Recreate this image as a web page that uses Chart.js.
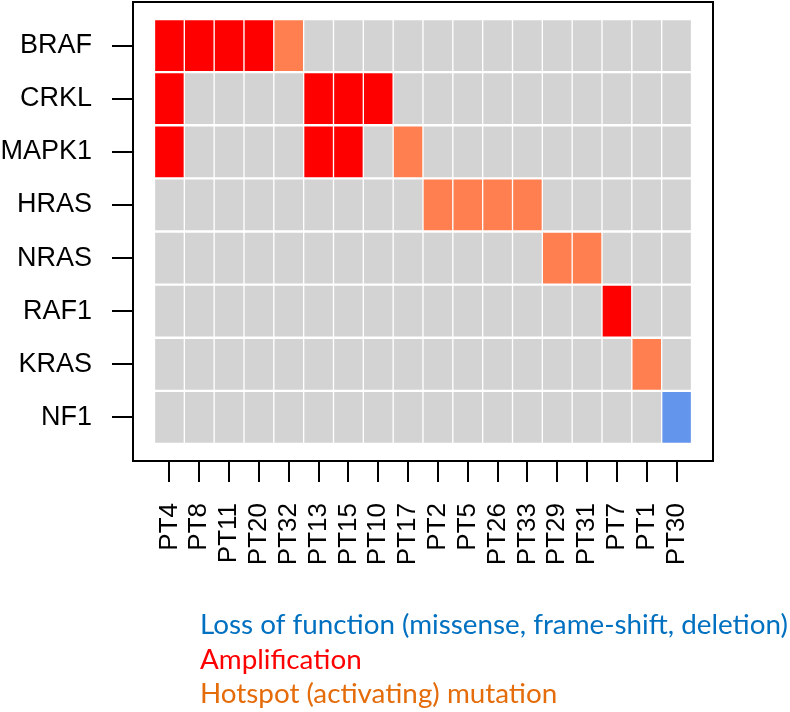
<!DOCTYPE html>
<html>
<head>
<meta charset="utf-8">
<script src="https://cdn.jsdelivr.net/npm/chart.js@4.4.0/dist/chart.umd.min.js"></script>
<style>
  html, body { margin: 0; padding: 0; background: #fff; }
</style>
</head>
<body>
<canvas id="chart" width="790" height="712"></canvas>
<script>
const genes = ["BRAF", "CRKL", "MAPK1", "HRAS", "NRAS", "RAF1", "KRAS", "NF1"];
const patients = ["PT4", "PT8", "PT11", "PT20", "PT32", "PT13", "PT15", "PT10", "PT17",
  "PT2", "PT5", "PT26", "PT33", "PT29", "PT31", "PT7", "PT1", "PT30"];

// 0 = none, 1 = amplification, 2 = hotspot mutation, 3 = loss of function
const BRAF  = [1, 1, 1, 1, 2, 0, 0, 0, 0, 0, 0, 0, 0, 0, 0, 0, 0, 0];
const CRKL  = [1, 0, 0, 0, 0, 1, 1, 1, 0, 0, 0, 0, 0, 0, 0, 0, 0, 0];
const MAPK1 = [1, 0, 0, 0, 0, 1, 1, 0, 2, 0, 0, 0, 0, 0, 0, 0, 0, 0];
const HRAS  = [0, 0, 0, 0, 0, 0, 0, 0, 0, 2, 2, 2, 2, 0, 0, 0, 0, 0];
const NRAS  = [0, 0, 0, 0, 0, 0, 0, 0, 0, 0, 0, 0, 0, 2, 2, 0, 0, 0];
const RAF1  = [0, 0, 0, 0, 0, 0, 0, 0, 0, 0, 0, 0, 0, 0, 0, 1, 0, 0];
const KRAS  = [0, 0, 0, 0, 0, 0, 0, 0, 0, 0, 0, 0, 0, 0, 0, 0, 2, 0];
const NF1   = [0, 0, 0, 0, 0, 0, 0, 0, 0, 0, 0, 0, 0, 0, 0, 0, 0, 3];

const statusColors = ["#d3d3d3", "#ff0000", "#ff7f50", "#6495ed"];

const legendLabels = [
  "Loss of function (missense, frame-shift, deletion)",
  "Amplification",
  "Hotspot (activating) mutation",
];
const legendColors = ["#0070c0", "#ff0000", "#e46c0a"];

const rows = [BRAF, CRKL, MAPK1, HRAS, NRAS, RAF1, KRAS, NF1];
const axisFont = "'Liberation Sans', Arial, Helvetica, sans-serif";

const datasets = rows.map((row, r) => ({
  label: genes[r],
  data: row.map((s, i) => ({ x: i, y: [r - 0.5, r + 0.5] })),
  backgroundColor: row.map((s) => statusColors[s]),
  borderColor: "#ffffff",
  borderWidth: { top: 1.5, bottom: 1.5, left: 1, right: 1 },
  borderSkipped: false,
  grouped: false,
  barPercentage: 1,
  categoryPercentage: 1,
}));

// box around the plot, like R's frame
const framePlugin = {
  id: "frame",
  afterDraw(chart) {
    const { ctx, chartArea } = chart;
    ctx.save();
    ctx.strokeStyle = "#000";
    ctx.lineWidth = 2;
    ctx.strokeRect(chartArea.left, chartArea.top,
      chartArea.right - chartArea.left, chartArea.bottom - chartArea.top);
    ctx.restore();
  },
};

// coloured text legend below the chart
const textLegendPlugin = {
  id: "textLegend",
  afterDraw(chart) {
    const ctx = chart.ctx;
    ctx.save();
    ctx.font = "100px Lato";
    const w = ctx.measureText(legendLabels[0]).width;
    const size = (100 * 588) / w;
    ctx.font = size + "px Lato";
    ctx.textAlign = "left";
    ctx.textBaseline = "alphabetic";
    legendLabels.forEach((txt, k) => {
      ctx.fillStyle = legendColors[k];
      ctx.fillText(txt, 200, 634 + k * 34.5);
    });
    ctx.restore();
  },
};

new Chart(document.getElementById("chart").getContext("2d"), {
  type: "bar",
  data: { datasets },
  options: {
    responsive: false,
    animation: false,
    devicePixelRatio: 1,
    layout: { padding: { top: 2, right: 77, bottom: 0, left: 0 } },
    plugins: {
      legend: { display: false },
      tooltip: { enabled: false },
    },
    scales: {
      x: {
        type: "linear",
        bounds: "data",
        offset: false,
        min: -0.5 - 0.04 * patients.length,
        max: patients.length - 0.5 + 0.04 * patients.length,
        afterBuildTicks: (s) => {
          s.ticks = patients.map((p, i) => ({ value: i }));
        },
        afterFit: (s) => {
          s.height = 251;
          s.paddingLeft = 0;
          s.paddingRight = 0;
        },
        ticks: {
          autoSkip: false,
          minRotation: 90,
          maxRotation: 90,
          padding: 21,
          color: "#000",
          font: { family: axisFont, size: 26 },
          callback: (v, i) => patients[i],
        },
        grid: { offset: false, drawOnChartArea: false, drawTicks: true, tickLength: 21, color: "#000", lineWidth: 2 },
        border: { display: false },
      },
      y: {
        type: "linear",
        bounds: "data",
        reverse: true,
        min: -0.5 - 0.04 * genes.length,
        max: genes.length - 0.5 + 0.04 * genes.length,
        afterBuildTicks: (s) => {
          s.ticks = genes.map((g, i) => ({ value: i }));
        },
        afterFit: (s) => {
          s.width = 133;
          s.paddingTop = 0;
          s.paddingBottom = 0;
        },
        ticks: {
          autoSkip: false,
          padding: 20,
          color: "#000",
          font: { family: axisFont, size: 27 },
          callback: (v, i) => genes[i],
        },
        grid: { drawOnChartArea: false, drawTicks: true, tickLength: 21, color: "#000", lineWidth: 2 },
        border: { display: false },
      },
    },
  },
  plugins: [framePlugin, textLegendPlugin],
});
</script>
</body>
</html>
